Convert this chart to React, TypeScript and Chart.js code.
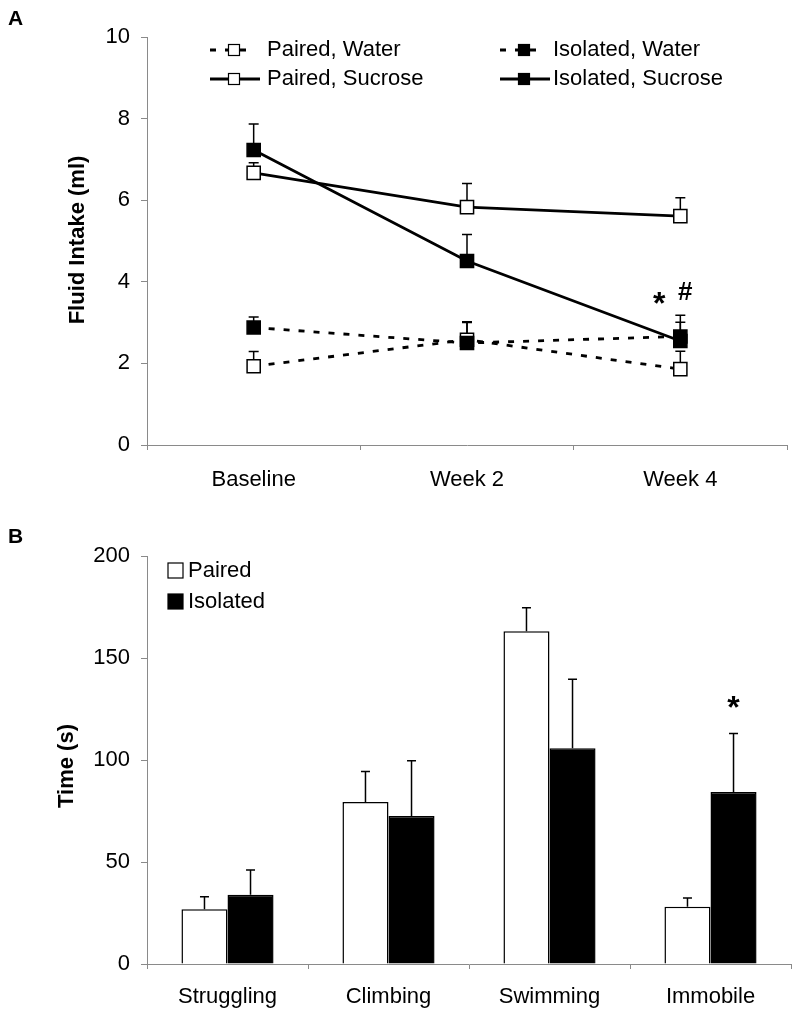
import React, { useEffect, useRef } from 'react';
import { Chart, registerables } from 'chart.js';

Chart.register(...registerables);

const FONT = '"Liberation Sans", Arial, Helvetica, sans-serif';

// ---------- Panel A data ----------
const weeks = ['Baseline', 'Week 2', 'Week 4'];
const pairedWater = [1.93, 2.58, 1.86];
const pairedWaterErr = [0.36, 0.42, 0.44];
const isolatedWater = [2.88, 2.5, 2.66];
const isolatedWaterErr = [0.26, 0.52, 0.35];
const pairedSucrose = [6.67, 5.83, 5.61];
const pairedSucroseErr = [0.25, 0.58, 0.45];
const isolatedSucrose = [7.23, 4.51, 2.55];
const isolatedSucroseErr = [0.64, 0.65, 0.63];
const fluidMin = 0;
const fluidMax = 10;
const fluidStep = 2;

// ---------- Panel B data ----------
const behaviours = ['Struggling', 'Climbing', 'Swimming', 'Immobile'];
const pairedTime = [26.8, 79.4, 163.1, 28.1];
const pairedTimeErr = [6.2, 15.0, 11.5, 4.3];
const isolatedTime = [34.0, 72.5, 105.8, 84.3];
const isolatedTimeErr = [12.1, 27.1, 33.8, 28.7];
const timeMin = 0;
const timeMax = 200;
const timeStep = 50;

const AXIS_COLOR = '#8a8a8a';

function drawErrorBars(chart: any, cap: number) {
  const { ctx } = chart;
  const yScale = chart.scales.y;
  chart.data.datasets.forEach((ds: any, i: number) => {
    const errs = ds.errors;
    if (!errs) return;
    const meta = chart.getDatasetMeta(i);
    meta.data.forEach((el: any, j: number) => {
      const v = ds.data[j];
      const e = errs[j];
      const x = el.x;
      const y0 = yScale.getPixelForValue(v);
      const y1 = yScale.getPixelForValue(v + e);
      ctx.save();
      ctx.strokeStyle = '#000';
      ctx.lineWidth = 1.5;
      ctx.setLineDash([]);
      ctx.beginPath();
      ctx.moveTo(x, y0);
      ctx.lineTo(x, y1);
      ctx.moveTo(x - cap, y1);
      ctx.lineTo(x + cap, y1);
      ctx.stroke();
      ctx.restore();
    });
  });
}

function drawRotatedTitle(ctx: CanvasRenderingContext2D, text: string, x: number, y: number) {
  ctx.save();
  ctx.translate(x, y);
  ctx.rotate(-Math.PI / 2);
  ctx.font = `bold 22px ${FONT}`;
  ctx.fillStyle = '#000';
  ctx.textAlign = 'center';
  ctx.textBaseline = 'middle';
  ctx.fillText(text, 0, 0);
  ctx.restore();
}

function drawPanelLetter(ctx: CanvasRenderingContext2D, text: string, x: number, y: number) {
  ctx.save();
  ctx.font = `bold 21px ${FONT}`;
  ctx.fillStyle = '#000';
  ctx.textAlign = 'left';
  ctx.textBaseline = 'middle';
  ctx.fillText(text, x, y);
  ctx.restore();
}

function LineChartA() {
  const ref = useRef<HTMLCanvasElement | null>(null);
  useEffect(() => {
    if (!ref.current) return;
    const mk = (label: string, data: number[], errors: number[], filled: boolean, dashed: boolean) => ({
      label,
      data,
      errors,
      borderColor: '#000',
      backgroundColor: filled ? '#000' : '#fff',
      borderWidth: 2.8,
      borderDash: dashed ? [6, 9] : [],
      pointStyle: 'rect',
      pointRadius: 9.3,
      pointHoverRadius: 9.3,
      pointBorderWidth: 1.5,
      pointBorderColor: '#000',
      pointBackgroundColor: filled ? '#000' : '#fff',
      tension: 0,
      fill: false,
      filled,
      dashed,
    });
    const datasets = [
      mk('Isolated, Sucrose', isolatedSucrose, isolatedSucroseErr, true, false),
      mk('Isolated, Water', isolatedWater, isolatedWaterErr, true, true),
      mk('Paired, Sucrose', pairedSucrose, pairedSucroseErr, false, false),
      mk('Paired, Water', pairedWater, pairedWaterErr, false, true),
    ];
    const legendLayout: { [k: string]: [number, number] } = {
      'Paired, Water': [210, 50],
      'Paired, Sucrose': [210, 79],
      'Isolated, Water': [500, 50],
      'Isolated, Sucrose': [500, 79],
    };
    const errPlugin = {
      id: 'errA',
      beforeDatasetsDraw(chart: any) {
        drawErrorBars(chart, 5);
      },
    };
    const decoPlugin = {
      id: 'decoA',
      afterDraw(chart: any) {
        const ctx: CanvasRenderingContext2D = chart.ctx;
        drawPanelLetter(ctx, 'A', 8, 19);
        drawRotatedTitle(ctx, 'Fluid Intake (ml)', 78, 240);
        // legend
        chart.data.datasets.forEach((ds: any) => {
          const pos = legendLayout[ds.label];
          if (!pos) return;
          const [lx, ly] = pos;
          ctx.save();
          ctx.strokeStyle = '#000';
          ctx.lineWidth = 2.8;
          ctx.setLineDash(ds.dashed ? [6, 9] : []);
          ctx.beginPath();
          ctx.moveTo(lx, ly);
          ctx.lineTo(lx + (ds.dashed ? 40 : 50), ly);
          ctx.stroke();
          ctx.setLineDash([]);
          const s = 11;
          const cx = lx + 24;
          ctx.fillStyle = ds.filled ? '#000' : '#fff';
          ctx.fillRect(cx - s / 2, ly - s / 2, s, s);
          ctx.lineWidth = 1.2;
          ctx.strokeRect(cx - s / 2, ly - s / 2, s, s);
          ctx.fillStyle = '#000';
          ctx.font = `22px ${FONT}`;
          ctx.textAlign = 'left';
          ctx.textBaseline = 'middle';
          ctx.fillText(ds.label, lx + (lx < 400 ? 57 : 53), ly);
          ctx.restore();
        });
        // significance marks at Week 4
        const xs = chart.scales.x;
        const ys = chart.scales.y;
        const wx = xs.getPixelForValue(2);
        ctx.save();
        ctx.fillStyle = '#000';
        ctx.textAlign = 'center';
        ctx.textBaseline = 'alphabetic';
        ctx.font = `bold 32px ${FONT}`;
        ctx.fillText('*', wx - 21, ys.getPixelForValue(3.65) + 18);
        ctx.font = `bold 26px ${FONT}`;
        ctx.fillText('#', wx + 5, ys.getPixelForValue(3.77) + 9);
        ctx.restore();
      },
    };
    const chart = new Chart(ref.current, {
      type: 'line',
      data: { labels: weeks, datasets: datasets as any },
      options: {
        responsive: false,
        animation: false,
        events: [],
        layout: { padding: { top: 37, right: 13, left: 0, bottom: 0 } },
        plugins: { legend: { display: false }, tooltip: { enabled: false }, title: { display: false } },
        scales: {
          x: {
            type: 'category',
            offset: true,
            grid: { offset: true, drawOnChartArea: false, drawTicks: true, tickLength: 5, color: AXIS_COLOR },
            border: { color: AXIS_COLOR, width: 1 },
            ticks: { color: '#000', font: { family: FONT, size: 22 }, padding: 17, maxRotation: 0 },
            afterFit: (s: any) => {
              s.height = 65;
            },
          },
          y: {
            min: fluidMin,
            max: fluidMax,
            ticks: { stepSize: fluidStep, color: '#000', font: { family: FONT, size: 22 }, padding: 11 },
            grid: { drawOnChartArea: false, drawTicks: true, tickLength: 6, color: AXIS_COLOR },
            border: { color: AXIS_COLOR, width: 1 },
            afterFit: (s: any) => {
              s.width = 147;
            },
          },
        },
      },
      plugins: [errPlugin, decoPlugin],
    });
    return () => chart.destroy();
  }, []);
  return <canvas ref={ref} width={800} height={510} style={{ display: 'block' }} />;
}

function BarChartB() {
  const ref = useRef<HTMLCanvasElement | null>(null);
  useEffect(() => {
    if (!ref.current) return;
    const datasets = [
      {
        label: 'Paired',
        data: pairedTime,
        errors: pairedTimeErr,
        backgroundColor: '#fff',
        borderColor: '#000',
        borderWidth: 1.5,
        categoryPercentage: 0.572,
        barPercentage: 1.0,
      },
      {
        label: 'Isolated',
        data: isolatedTime,
        errors: isolatedTimeErr,
        backgroundColor: '#000',
        borderColor: '#000',
        borderWidth: 1.5,
        categoryPercentage: 0.572,
        barPercentage: 1.0,
      },
    ];
    const errPlugin = {
      id: 'errB',
      afterDatasetsDraw(chart: any) {
        drawErrorBars(chart, 4.5);
      },
    };
    const decoPlugin = {
      id: 'decoB',
      afterDraw(chart: any) {
        const ctx: CanvasRenderingContext2D = chart.ctx;
        drawPanelLetter(ctx, 'B', 8, 27);
        drawRotatedTitle(ctx, 'Time (s)', 67, 256);
        const rows: [number, number][] = [
          [168, 60.5],
          [168, 91.5],
        ];
        chart.data.datasets.forEach((ds: any, i: number) => {
          const [lx, ly] = rows[i];
          ctx.save();
          const s = 15;
          ctx.fillStyle = ds.backgroundColor;
          ctx.fillRect(lx, ly - s / 2, s, s);
          ctx.strokeStyle = '#000';
          ctx.lineWidth = 1.2;
          ctx.strokeRect(lx, ly - s / 2, s, s);
          ctx.fillStyle = '#000';
          ctx.font = `22px ${FONT}`;
          ctx.textAlign = 'left';
          ctx.textBaseline = 'middle';
          ctx.fillText(ds.label, lx + 20, ly);
          ctx.restore();
        });
        // significance mark above Immobile / Isolated
        const meta = chart.getDatasetMeta(1);
        const el: any = meta.data[3];
        const ys = chart.scales.y;
        ctx.save();
        ctx.fillStyle = '#000';
        ctx.textAlign = 'center';
        ctx.textBaseline = 'alphabetic';
        ctx.font = `bold 32px ${FONT}`;
        ctx.fillText('*', el.x, ys.getPixelForValue(129.3) + 18);
        ctx.restore();
      },
    };
    const chart = new Chart(ref.current, {
      type: 'bar',
      data: { labels: behaviours, datasets: datasets as any },
      options: {
        responsive: false,
        animation: false,
        events: [],
        layout: { padding: { top: 46, right: 9, left: 0, bottom: 0 } },
        plugins: { legend: { display: false }, tooltip: { enabled: false }, title: { display: false } },
        scales: {
          x: {
            type: 'category',
            offset: true,
            grid: { offset: true, drawOnChartArea: false, drawTicks: true, tickLength: 5, color: AXIS_COLOR },
            border: { color: AXIS_COLOR, width: 1 },
            ticks: { color: '#000', font: { family: FONT, size: 22 }, padding: 14.5, maxRotation: 0 },
            afterFit: (s: any) => {
              s.height = 55;
            },
          },
          y: {
            min: timeMin,
            max: timeMax,
            ticks: { stepSize: timeStep, color: '#000', font: { family: FONT, size: 22 }, padding: 11 },
            grid: { drawOnChartArea: false, drawTicks: true, tickLength: 6, color: AXIS_COLOR },
            border: { color: AXIS_COLOR, width: 1 },
            afterFit: (s: any) => {
              s.width = 147;
            },
          },
        },
      },
      plugins: [errPlugin, decoPlugin],
    });
    return () => chart.destroy();
  }, []);
  return <canvas ref={ref} width={800} height={509} style={{ display: 'block' }} />;
}

export default function App() {
  return (
    <div
      style={{
        position: 'absolute',
        left: 0,
        top: 0,
        width: 800,
        height: 1019,
        background: '#fff',
        overflow: 'hidden',
      }}
    >
      <LineChartA />
      <BarChartB />
    </div>
  );
}
